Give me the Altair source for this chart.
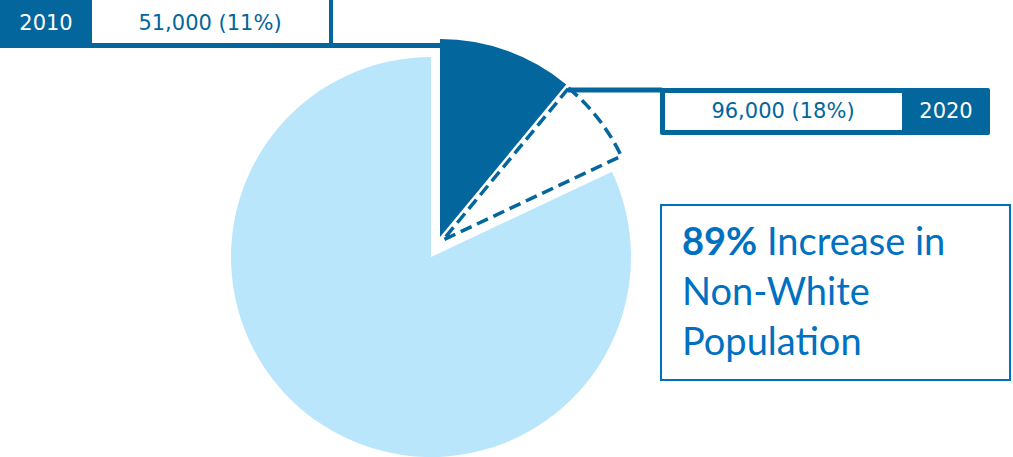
import altair as alt
import pandas as pd

# ---- data ----
years = ["2010", "2020"]
counts = ["51,000", "96,000"]
shares = [0.11, 0.18]
headline_pct = "89%"
headline_lines = ["Increase in", "Non-White", "Population"]

DARK = "#03669D"
LIGHT = "#BAE6FC"
BLUE = "#0070C0"
LABEL_FONT = "DejaVu Sans"
HEAD_FONT = "Lato"

W, H = 1013, 457

theta_scale = alt.Scale(domain=[0, 1], range=[0, 6.283185307179586])
one = pd.DataFrame({"k": [0]})


def arc(start, end, cx, cy, r, **kw):
    df = pd.DataFrame({"start": [start], "end": [end]})
    return alt.Chart(df).mark_arc(radius=r, **kw).encode(
        theta=alt.Theta("start:Q", scale=theta_scale, stack=None),
        theta2="end:Q",
        x=alt.value(cx),
        y=alt.value(cy),
    )


def rect(x, x2, y, y2, **kw):
    return alt.Chart(one).mark_rect(**kw).encode(
        x=alt.value(x), x2=alt.value(x2), y=alt.value(y), y2=alt.value(y2)
    )


def rule(x, x2, y, **kw):
    return alt.Chart(one).mark_rule(**kw).encode(
        x=alt.value(x), x2=alt.value(x2), y=alt.value(y)
    )


def text(s, x, y, **kw):
    df = pd.DataFrame({"t": [s]})
    return alt.Chart(df).mark_text(**kw).encode(
        text="t:N", x=alt.value(x), y=alt.value(y)
    )


layers = []
# pie
layers.append(arc(shares[1], 1.0, 431, 257, 200, fill=LIGHT))
layers.append(arc(0.0, shares[0], 440, 237, 198, fill=DARK))
layers.append(arc(shares[0], shares[1], 443, 240, 197, fill="white",
                  stroke=DARK, strokeWidth=3.5, strokeDash=[12, 6]))

# 2010 label box + leader
layers.append(rule(0, 440, 45.5, color=DARK, strokeWidth=5))
layers.append(rect(0, 333, 0, 47, fill=DARK))
layers.append(rect(92, 329, 0, 43, fill="white"))
layers.append(text(years[0], 46, 24, color="white", font=LABEL_FONT, fontSize=21,
                   align="center", baseline="middle"))
layers.append(text(f"{counts[0]} ({round(shares[0]*100)}%)", 210, 24, color=DARK,
                   font=LABEL_FONT, fontSize=21, align="center", baseline="middle"))

# 2020 label box + leader
layers.append(rule(568, 662, 90, color=DARK, strokeWidth=5))
layers.append(rect(660, 990, 88, 135, fill=DARK, cornerRadius=2))
layers.append(rect(665, 902, 93, 130, fill="white"))
layers.append(text(f"{counts[1]} ({round(shares[1]*100)}%)", 783, 112, color=DARK,
                   font=LABEL_FONT, fontSize=21, align="center", baseline="middle"))
layers.append(text(years[1], 946, 112, color="white", font=LABEL_FONT, fontSize=21,
                   align="center", baseline="middle"))

# headline box
layers.append(rect(661, 1010, 205, 380, fill="white", stroke=BLUE, strokeWidth=2))
layers.append(text(headline_pct, 682, 255, color=BLUE, font=HEAD_FONT, fontSize=38,
                   fontWeight="bold", align="left", baseline="alphabetic"))
layers.append(text(headline_lines[0], 767, 255, color=BLUE, font=HEAD_FONT, fontSize=38,
                   align="left", baseline="alphabetic"))
layers.append(text(headline_lines[1], 682, 305, color=BLUE, font=HEAD_FONT, fontSize=38,
                   align="left", baseline="alphabetic"))
layers.append(text(headline_lines[2], 682, 355, color=BLUE, font=HEAD_FONT, fontSize=38,
                   align="left", baseline="alphabetic"))

chart = alt.layer(*layers).properties(
    width=W, height=H, padding=0, autosize=alt.AutoSizeParams(type="none"),
    background="white",
).configure_view(stroke=None)

chart.save("out.html", embed_options={"renderer": "svg", "actions": False})
